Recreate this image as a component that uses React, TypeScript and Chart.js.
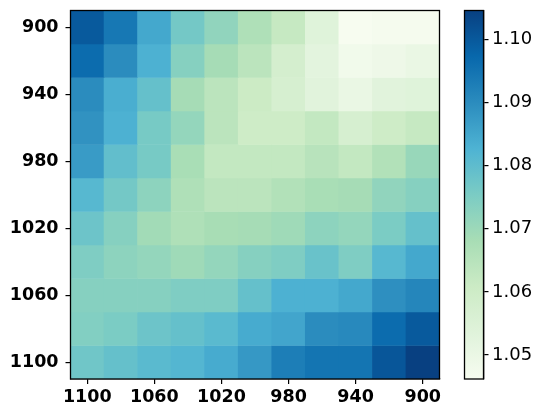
import React, { useEffect, useRef } from "react";
import { Chart, registerables } from "chart.js";

Chart.register(...registerables);

const xLabels = [1100, 1080, 1060, 1040, 1020, 1000, 980, 960, 940, 920, 900];
const yLabels = [900, 920, 940, 960, 980, 1000, 1020, 1040, 1060, 1080, 1100];
const colorbarTicks = [1.05, 1.06, 1.07, 1.08, 1.09, 1.1];
const VMIN = 1.0462;
const VMAX = 1.1046;

const row900 = [1.0999, 1.0941, 1.0847, 1.0766, 1.0719, 1.0666, 1.062, 1.0538, 1.0462, 1.0468, 1.0468];
const row920 = [1.0964, 1.09, 1.083, 1.0736, 1.0684, 1.0643, 1.0579, 1.0526, 1.048, 1.0491, 1.0503];
const row940 = [1.09, 1.0836, 1.0789, 1.0684, 1.0643, 1.0608, 1.0573, 1.0532, 1.0503, 1.0532, 1.0538];
const row960 = [1.0888, 1.083, 1.076, 1.0713, 1.0643, 1.0602, 1.0602, 1.0626, 1.0573, 1.0602, 1.062];
const row980 = [1.0871, 1.0795, 1.076, 1.0678, 1.0626, 1.0626, 1.0626, 1.0649, 1.0626, 1.0661, 1.0707];
const row1000 = [1.0812, 1.0766, 1.0725, 1.0666, 1.0643, 1.0643, 1.0661, 1.0678, 1.0684, 1.0719, 1.0736];
const row1020 = [1.0777, 1.0736, 1.069, 1.0666, 1.0681, 1.0684, 1.0696, 1.0725, 1.0713, 1.0754, 1.0789];
const row1040 = [1.0748, 1.0725, 1.0713, 1.0696, 1.0713, 1.0736, 1.0748, 1.0783, 1.0748, 1.0812, 1.0847];
const row1060 = [1.0736, 1.0736, 1.0736, 1.0748, 1.0748, 1.0789, 1.083, 1.083, 1.0847, 1.0894, 1.0912];
const row1080 = [1.0742, 1.0754, 1.0777, 1.0789, 1.0807, 1.0842, 1.0853, 1.09, 1.0906, 1.0964, 1.0999];
const row1100 = [1.0772, 1.0789, 1.0807, 1.0818, 1.0842, 1.0877, 1.0929, 1.0947, 1.0947, 1.1005, 1.1046];

const rows = [row900, row920, row940, row960, row980, row1000, row1020, row1040, row1060, row1080, row1100];

const GNBU = ["#f7fcf0", "#e0f3db", "#ccebc5", "#a8ddb5", "#7bccc4", "#4eb3d3", "#2b8cbe", "#0868ac", "#084081"];

function hexToRgb(h: string) {
  return [parseInt(h.slice(1, 3), 16), parseInt(h.slice(3, 5), 16), parseInt(h.slice(5, 7), 16)];
}

function colorFor(v: number) {
  let t = (v - VMIN) / (VMAX - VMIN);
  t = Math.max(0, Math.min(1, t));
  const pos = t * (GNBU.length - 1);
  const i = Math.min(GNBU.length - 2, Math.floor(pos));
  const f = pos - i;
  const a = hexToRgb(GNBU[i]);
  const b = hexToRgb(GNBU[i + 1]);
  const c = a.map((x, k) => Math.round(x + (b[k] - x) * f));
  return `rgb(${c[0]},${c[1]},${c[2]})`;
}

const FONT = "'DejaVu Sans', sans-serif";

const framePlugin = {
  id: "frame",
  afterDraw(chart: any) {
    const { ctx, chartArea } = chart;
    ctx.save();
    ctx.strokeStyle = "#000";
    ctx.lineWidth = 1.3;
    ctx.strokeRect(chartArea.left, chartArea.top, chartArea.right - chartArea.left, chartArea.bottom - chartArea.top);
    ctx.restore();
  },
};

const noPadV = (s: any) => {
  s.paddingTop = 0;
  s.paddingBottom = 0;
};
const noPadH = (s: any) => {
  s.paddingLeft = 0;
  s.paddingRight = 0;
};

export default function App() {
  const mainRef = useRef<HTMLCanvasElement>(null);
  const cbRef = useRef<HTMLCanvasElement>(null);

  useEffect(() => {
    const main = new Chart(mainRef.current as HTMLCanvasElement, {
      type: "bar",
      data: {
        labels: xLabels.map(String),
        datasets: rows.map((row, r) => ({
          data: row.map(() => [r, r + 1]),
          backgroundColor: row.map(colorFor),
          borderWidth: 0,
          grouped: false,
          barPercentage: 1,
          categoryPercentage: 1,
        })) as any,
      },
      options: {
        animation: false,
        responsive: false,
        maintainAspectRatio: false,
        layout: { padding: { left: 0, top: 10.5, right: 102.5, bottom: 0 } },
        plugins: { legend: { display: false }, tooltip: { enabled: false } },
        scales: {
          x: {
            type: "category",
            offset: true,
            grid: { display: true, offset: false, drawOnChartArea: false, drawTicks: true, tickLength: 5, color: "#000", tickColor: "#000", lineWidth: 1.2 },
            border: { display: true, color: "#000", width: 1.3 },
            ticks: {
              autoSkip: false,
              maxRotation: 0,
              color: "#000",
              padding: 3,
              font: { family: FONT, weight: "bold", size: 17.5 },
              callback: (_v: any, i: number) => (i % 2 === 0 ? String(xLabels[i]) : null),
            },
            afterFit: (s: any) => {
              s.height = 38;
              noPadH(s);
            },
          },
          y: {
            type: "linear",
            min: 0,
            max: 11,
            reverse: true,
            afterBuildTicks: (s: any) => {
              s.ticks = yLabels.map((_l, i) => i).filter((i) => i % 2 === 0).map((i) => ({ value: i + 0.5 }));
            },
            grid: { display: true, drawOnChartArea: false, drawTicks: true, tickLength: 5, color: "#000", tickColor: "#000", lineWidth: 1.2 },
            border: { display: true, color: "#000", width: 1.3 },
            ticks: {
              color: "#000",
              padding: 7,
              font: { family: FONT, weight: "bold", size: 17.5 },
              callback: (v: any) => String(yLabels[Math.floor(Number(v))]),
            },
            afterFit: (s: any) => {
              s.width = 70.5;
              noPadV(s);
            },
          },
        },
      } as any,
      plugins: [framePlugin],
    });

    const cb = new Chart(cbRef.current as HTMLCanvasElement, {
      type: "bar",
      data: {
        labels: ["cb"],
        datasets: [
          {
            data: [[VMIN, VMAX]] as any,
            backgroundColor: (ctx: any) => {
              const ch = ctx.chart;
              const ca = ch.chartArea;
              if (!ca) return "#ccc";
              const g = ch.ctx.createLinearGradient(0, ca.bottom, 0, ca.top);
              GNBU.forEach((c, i) => g.addColorStop(i / (GNBU.length - 1), c));
              return g;
            },
            borderWidth: 0,
            barPercentage: 1,
            categoryPercentage: 1,
          },
        ],
      },
      options: {
        animation: false,
        responsive: false,
        maintainAspectRatio: false,
        layout: { padding: { left: 24.5, top: 10.5, right: 0, bottom: 38 } },
        plugins: { legend: { display: false }, tooltip: { enabled: false } },
        scales: {
          x: { display: false },
          y: {
            position: "right",
            min: VMIN,
            max: VMAX,
            afterBuildTicks: (s: any) => {
              s.ticks = colorbarTicks.map((v) => ({ value: v }));
            },
            grid: { display: true, drawOnChartArea: false, drawTicks: true, tickLength: 5, color: "#000", tickColor: "#000", lineWidth: 1.2 },
            border: { display: true, color: "#000", width: 1.3 },
            ticks: {
              color: "#000",
              padding: 3.5,
              font: { family: FONT, size: 18 },
              callback: (v: any) => Number(v).toFixed(2),
            },
            afterFit: (s: any) => {
              s.width = 58.5;
              noPadV(s);
            },
          },
        },
      } as any,
      plugins: [framePlugin],
    });

    return () => {
      main.destroy();
      cb.destroy();
    };
  }, []);

  return (
    <div style={{ position: "fixed", left: 0, top: 0, width: 542, height: 417, background: "#fff" }}>
      <canvas ref={mainRef} width={542} height={417} style={{ position: "absolute", left: 0, top: 0 }} />
      <canvas ref={cbRef} width={102} height={417} style={{ position: "absolute", left: 440, top: 0 }} />
    </div>
  );
}
